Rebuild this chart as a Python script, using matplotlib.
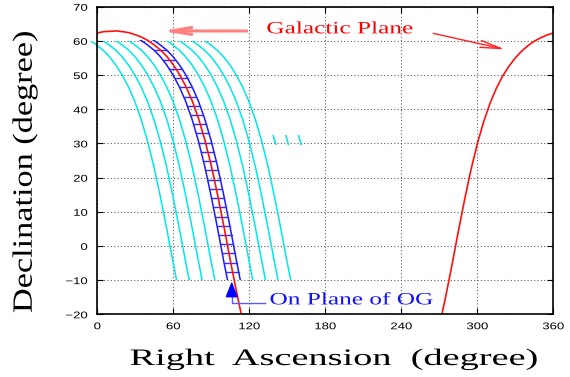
import numpy as np
import matplotlib
matplotlib.use("Agg")
import matplotlib.pyplot as plt
from matplotlib.patches import Rectangle
from matplotlib.transforms import Affine2D
from matplotlib import patheffects

# Galactic plane (RA, Dec in degrees), two branches.
gpLeftRA = [0, 5, 10, 15, 20, 25, 30, 35, 40, 45, 50, 55, 60, 65, 70, 75,
            80, 85, 90, 95, 100, 105, 110, 115]
gpLeftDec = [62.3, 62.7, 62.8, 62.9, 62.7, 62.4, 61.8, 61.1, 60.1, 58.8, 57.3,
             55.4, 53.0, 50.1, 46.6, 42.4, 37.2, 30.9, 23.5, 14.9, 5.6, -4.2,
             -13.6, -22.3]
gpRightRA = [270, 275, 280, 285, 290, 295, 300, 305, 310, 315, 320, 325, 330,
             335, 340, 345, 350, 355, 360]
gpRightDec = [-23.5, -14.9, -5.6, 4.2, 13.6, 22.3, 29.9, 36.3, 41.7, 46.1, 49.7,
              52.6, 55.0, 57.0, 58.6, 59.9, 60.9, 61.7, 62.3]

# RA offsets of the cyan tracks and of the blue band edges from the plane.
cyanShift = [-45.5, -35.5, -25.3, -15.3, 14.7, 24.7, 34.6, 44.6]
bandShift = [-5.3, 4.8]
# Short cyan marks near Dec 30.
markShift = [55, 65, 75]
# Declinations of the cross lines inside the blue band.
hatchDec = [-7.6, -4.9, -2.2, 0.5, 3.2, 5.9, 8.6, 11.3, 14.0, 16.7, 19.4, 22.1,
            24.8, 27.5, 30.2, 32.9, 35.6, 38.3, 41.0, 43.7, 46.4, 49.1, 51.8,
            54.5, 57.2]

xTicks = [0, 60, 120, 180, 240, 300, 360]
yTicks = [-20, -10, 0, 10, 20, 30, 40, 50, 60, 70]


# The glyphs in the picture are wider than normal, so stretch them along the text.
# Either a fixed factor (sx) or a target ink width in pixels (width).
class Stretch(patheffects.AbstractPathEffect):
    def __init__(self, sx=1.0, anchor=0.5, width=None):
        super().__init__()
        self.sx = sx
        self.anchor = anchor
        self.width = width

    def draw_path(self, renderer, gc, tpath, affine, rgbFace=None):
        ext = tpath.get_extents()
        sx = self.sx
        if self.width is not None:
            m = affine.get_matrix()
            sx = self.width / (ext.width * np.hypot(m[0, 0], m[1, 0]))
        cx = ext.x0 + self.anchor * ext.width
        tr = Affine2D().translate(-cx, 0).scale(sx, 1).translate(cx, 0) + affine
        renderer.draw_path(gc, tpath, tr, rgbFace)


def clippedLine(ax, ra, dec, lo, hi, **kw):
    line, = ax.plot(ra, dec, **kw)
    line.set_clip_path(Rectangle((-100, lo), 600, hi - lo, transform=ax.transData))
    return line


fig = plt.figure(figsize=(5.7, 3.77), dpi=100)
ax = fig.add_axes([97.3 / 570, 1 - 314.3 / 377, 456 / 570, 307.6 / 377])

gpLeftRA = np.array(gpLeftRA)
gpLeftDec = np.array(gpLeftDec)

# Cyan tracks
for s in cyanShift:
    clippedLine(ax, gpLeftRA + s, gpLeftDec, -10, 60, color='#00e8e8', lw=1.1)
for s in markShift:
    clippedLine(ax, gpLeftRA + s, gpLeftDec, 29.5, 32.4, color='#00e8e8', lw=1.1)

# Blue band round the plane
for s in bandShift:
    clippedLine(ax, gpLeftRA + s, gpLeftDec, -10, 60.4, color='#1a1aff', lw=1.1)
steep = gpLeftRA >= 15
decRev = gpLeftDec[steep][::-1]
raRev = gpLeftRA[steep][::-1]
for d in hatchDec:
    r = np.interp(d, decRev, raRev)
    ax.plot([r + bandShift[0], r + bandShift[1]], [d, d], color='#3030ff', lw=1.0)

# Galactic plane
ax.plot(gpLeftRA, gpLeftDec, color='#ff1010', lw=1.2)
ax.plot(gpRightRA, gpRightDec, color='#ff1010', lw=1.2)

ax.set_xlim(0, 360)
ax.set_ylim(-20, 70)
ax.set_xticks(xTicks)
ax.set_yticks(yTicks)
ax.grid(True, color='#606060', linestyle=(0, (1, 2)), lw=0.8)
ax.tick_params(direction='in', top=True, right=True, length=4.5, width=0.8,
               labelsize=7, pad=5)
ax.tick_params(axis='y', pad=7)
for sp in ax.spines.values():
    sp.set_linewidth(1.2)
for lab in ax.get_xticklabels():
    lab.set_family('Liberation Sans')
    lab.set_path_effects([Stretch(1.35, 0.5)])
for lab in ax.get_yticklabels():
    lab.set_family('Liberation Sans')
    lab.set_path_effects([Stretch(1.35, 1.0)])

# Arrows and notes
ax.annotate('', xy=(50.8, 62.9), xytext=(118, 62.9), annotation_clip=False,
            arrowprops=dict(arrowstyle='->,head_length=1.5,head_width=0.25',
                            color='#ff8080', lw=2.2, shrinkA=0, shrinkB=0,
                            mutation_scale=10))
ax.annotate('', xy=(321.9, 57.5), xytext=(265.3, 62.2), annotation_clip=False,
            arrowprops=dict(arrowstyle='->,head_length=1.5,head_width=0.25',
                            color='#ff2020', lw=1.0, shrinkA=0, shrinkB=0,
                            mutation_scale=10))
ax.text(133.7, 62.2, 'Galactic Plane', color='#ff0000', fontsize=12.5,
        family='Liberation Serif', ha='left', va='baseline',
        path_effects=[Stretch(anchor=0.0, width=145)])

ax.plot([106.1, 106.1, 132.4], [-14.0, -16.8, -16.8], color='#5a5aff', lw=1.0)
ax.annotate('', xy=(106.1, -10.4), xytext=(106.1, -14.6), annotation_clip=False,
            arrowprops=dict(arrowstyle='-|>,head_length=0.96,head_width=0.38',
                            color='#0000ff', lw=1.0, shrinkA=0, shrinkB=0,
                            mutation_scale=10))
ax.text(136.2, -17.1, 'On Plane of OG', color='#1010ff', fontsize=12.5,
        family='Liberation Serif', ha='left', va='baseline',
        path_effects=[Stretch(anchor=0.0, width=162)])

# Axis titles
fig.text(334 / 570, 1 - 365 / 377, 'Right  Ascension  (degree)', fontsize=17,
         family='Liberation Serif', ha='center', va='baseline',
         path_effects=[Stretch(anchor=0.5, width=406)])
fig.text(31.7 / 570, 1 - 171.7 / 377, 'Declination (degree)', fontsize=20,
         family='Liberation Serif', ha='center', va='baseline', rotation=90,
         rotation_mode='anchor', path_effects=[Stretch(anchor=0.5, width=280)])

fig.savefig('out.png', dpi=100)
